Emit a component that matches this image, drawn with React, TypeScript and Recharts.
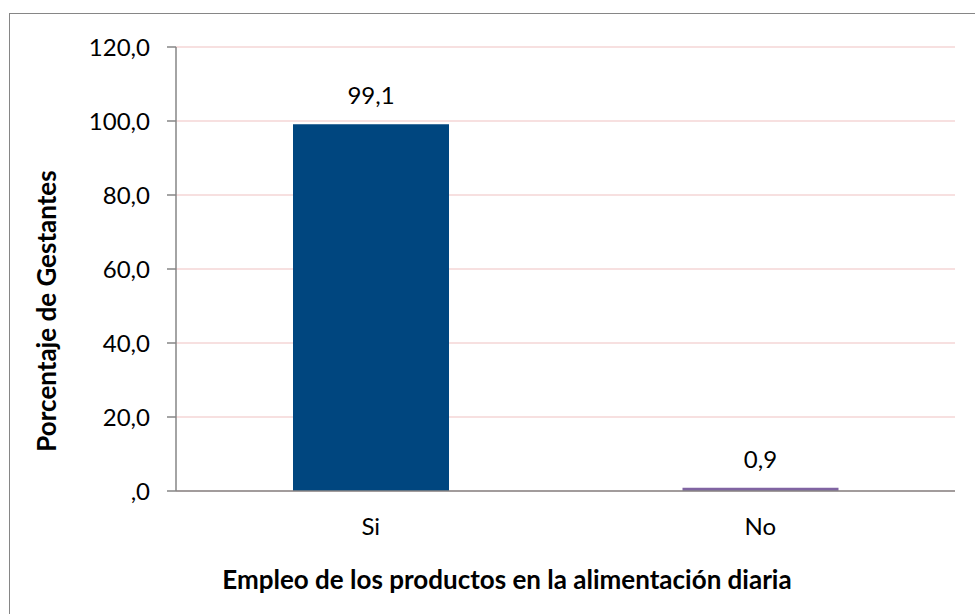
import React from 'react';
import { BarChart, Bar, XAxis, YAxis, CartesianGrid, Cell, LabelList } from 'recharts';

const categories = ['Si', 'No'];
const percentages = [99.1, 0.9];
const barColors = ['#00467F', '#8064A2'];
const yTicks = [0, 20, 40, 60, 80, 100, 120];

const data = categories.map((cat, i) => ({ cat, value: percentages[i] }));

const FONT = 'Lato, "Open Sans", sans-serif';

const fmt = (v: number) => (v === 0 ? ',0' : v.toFixed(1).replace('.', ','));

const App: React.FC = () => {
  return (
    <div
      style={{
        position: 'absolute',
        left: 0,
        top: 0,
        width: 975,
        height: 614,
        overflow: 'hidden',
        background: '#fff',
        fontFamily: FONT,
      }}
    >
      {/* chart frame, runs off the right and bottom edges */}
      <div
        style={{
          position: 'absolute',
          left: 9,
          top: 13,
          width: 1000,
          height: 700,
          border: '1px solid #868686',
        }}
      />
      <BarChart
        width={975}
        height={614}
        data={data}
        margin={{ top: 47, right: 20, bottom: 33, left: 76 }}
        style={{ position: 'absolute', left: 0, top: 0 }}
      >
        <CartesianGrid vertical={false} stroke="#F4D6D6" strokeWidth={1.3} />
        <XAxis
          dataKey="cat"
          height={90}
          tickLine={false}
          tickSize={0}
          tickMargin={27}
          axisLine={{ stroke: '#868686', strokeWidth: 1.5 }}
          tick={{ fill: '#000', fontSize: 24, fontFamily: FONT }}
        />
        <YAxis
          width={100}
          domain={[0, 120]}
          ticks={yTicks}
          interval={0}
          tickFormatter={fmt}
          tickSize={9}
          tickMargin={17}
          axisLine={{ stroke: '#868686', strokeWidth: 1.5 }}
          tickLine={{ stroke: '#868686', strokeWidth: 1.5 }}
          tick={{ fill: '#000', fontSize: 24, fontFamily: FONT }}
        />
        <Bar dataKey="value" barSize={156} isAnimationActive={false}>
          {data.map((d, i) => (
            <Cell key={d.cat} fill={barColors[i]} />
          ))}
          <LabelList
            dataKey="value"
            position="top"
            offset={20}
            formatter={(v: number) => fmt(v)}
            fill="#000"
            fontSize={24}
            fontFamily={FONT}
          />
        </Bar>
      </BarChart>
      <div
        style={{
          position: 'absolute',
          left: 507 - 400,
          width: 800,
          top: 564,
          lineHeight: '30px',
          textAlign: 'center',
          fontWeight: 'bold',
          fontSize: 26,
          color: '#000',
          whiteSpace: 'nowrap',
        }}
      >
        Empleo de los productos en la alimentación diaria
      </div>
      <div
        style={{
          position: 'absolute',
          left: 46 - 200,
          top: 311 - 15,
          width: 400,
          height: 30,
          lineHeight: '30px',
          textAlign: 'center',
          fontWeight: 'bold',
          fontSize: 26,
          color: '#000',
          whiteSpace: 'nowrap',
          transform: 'rotate(-90deg)',
        }}
      >
        Porcentaje de Gestantes
      </div>
    </div>
  );
};

export default App;
